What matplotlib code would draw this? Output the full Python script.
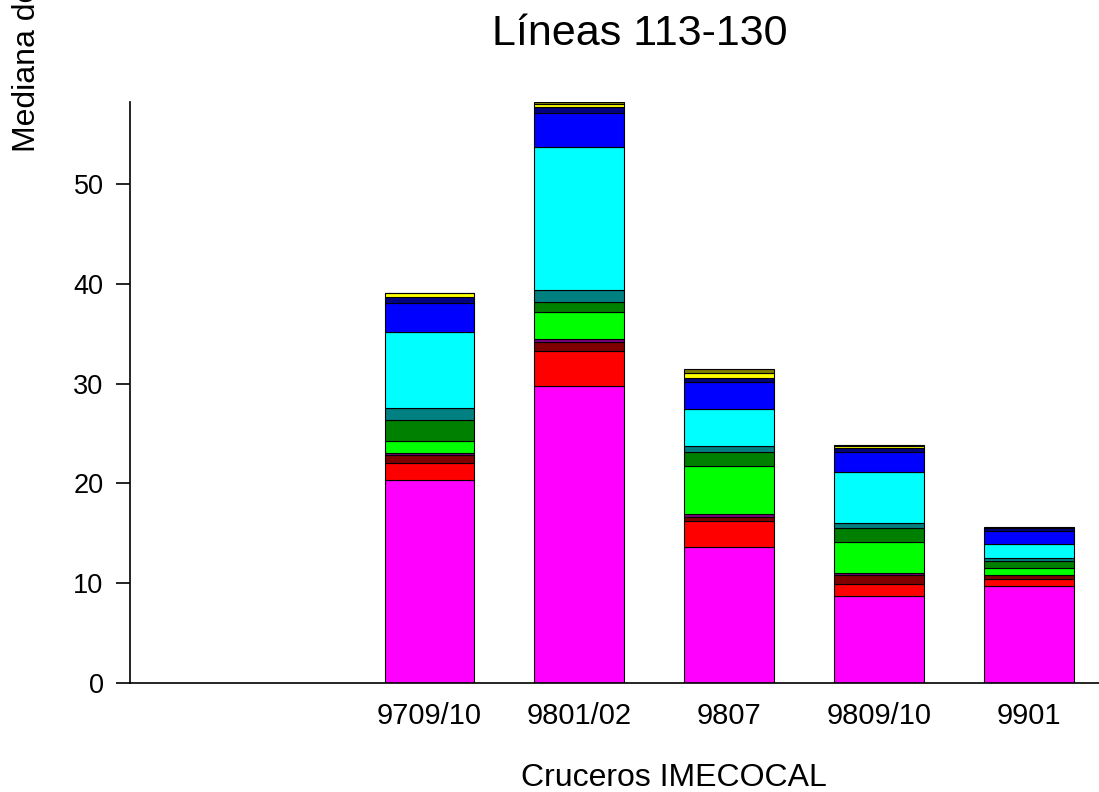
import matplotlib.pyplot as plt
import numpy as np

plt.rcParams['font.family'] = ['Liberation Sans', 'DejaVu Sans']

# Cruceros (las dos primeras posiciones quedan vacías en el original)
cruceros = ["9709/10", "9801/02", "9807", "9809/10", "9901"]
posiciones = [2, 3, 4, 5, 6]

# Alturas de cada segmento (de abajo hacia arriba)
magenta = [20.34, 29.76, 13.66, 8.75, 9.69]
rojo = [1.73, 3.54, 2.60, 1.14, 0.70]
granate = [0.78, 0.84, 0.40, 0.90, 0.40]
purpura = [0.17, 0.30, 0.27, 0.20, 0.03]
lima = [1.23, 2.70, 4.81, 3.17, 0.73]
verde = [2.10, 1.01, 1.44, 1.40, 0.67]
verde_azul = [1.17, 1.23, 0.60, 0.44, 0.34]
cian = [7.68, 14.36, 3.67, 5.17, 1.37]
azul = [2.85, 3.40, 2.74, 2.01, 1.33]
azul_marino = [0.65, 0.60, 0.34, 0.34, 0.24]
amarillo = [0.35, 0.26, 0.56, 0.26, 0.08]
oliva = [0.05, 0.20, 0.34, 0.07, 0.04]

series = [magenta, rojo, granate, purpura, lima, verde, verde_azul,
          cian, azul, azul_marino, amarillo, oliva]
colores = ['#ff00ff', '#ff0000', '#800000', '#800080', '#00ff00', '#008000',
           '#008080', '#00ffff', '#0000ff', '#000080', '#ffff00', '#808000']

fig = plt.figure(figsize=(10.99, 7.92), dpi=100)
ax = fig.add_axes([0.1183, 0.1376, 0.8817, 0.734])

base = np.zeros(len(cruceros))
for valores, color in zip(series, colores):
    ax.bar(posiciones, valores, width=0.6, bottom=base, color=color,
           edgecolor='black', linewidth=0.8)
    base += np.array(valores)

ax.set_xlim(0, 6.47)
ax.set_ylim(0, 58.25)
ax.set_yticks([0, 10, 20, 30, 40, 50])
ax.set_xticks(posiciones)
ax.set_xticklabels(cruceros)

ax.spines['top'].set_visible(False)
ax.spines['right'].set_visible(False)
ax.spines['left'].set_linewidth(1.2)
ax.spines['bottom'].set_linewidth(1.2)
ax.tick_params(axis='x', length=0, pad=14, labelsize=21)
ax.tick_params(axis='y', length=10, width=1.2, pad=9, labelsize=19.5)

fig.text(0.613, 0.007, "Cruceros IMECOCAL", fontsize=23, ha='center', va='baseline')
fig.text(0.5825, 0.943, "Líneas 113-130", fontsize=31, ha='center', va='baseline')
fig.text(0.025, 0.808, "Mediana de biomasa zooplanctónica", fontsize=23,
         rotation=90, ha='center', va='bottom')

plt.savefig("out.png", dpi=100)
